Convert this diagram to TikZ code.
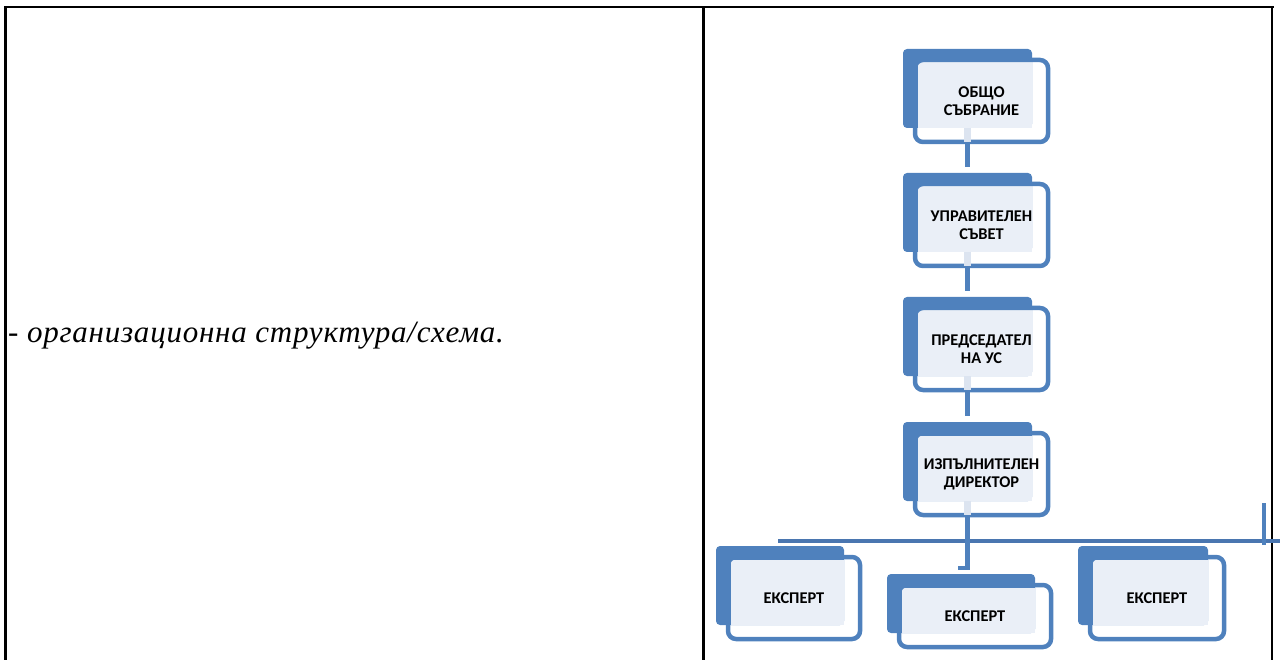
\documentclass[tikz,border=0pt]{standalone}
\usepackage{fontspec}
\setmainfont{Liberation Serif}
\newfontfamily\boxfont{Carlito}
\usetikzlibrary{calc}
\definecolor{ofdark}{HTML}{4F81BD}
\definecolor{oflight}{HTML}{EAEFF7}
\definecolor{ofstub}{HTML}{DCE4F0}
\definecolor{ofbus}{HTML}{4A76B0}
\tikzset{
  darkbox/.style={fill=ofdark, rounded corners=4pt, inner sep=0pt, outer sep=0pt},
  outbox/.style={draw=ofdark, line width=4.5pt, rounded corners=8pt, inner sep=0pt, outer sep=0pt},
  lightfill/.style={fill=oflight},
  boxtext/.style={font=\boxfont\bfseries\fontsize{16.4}{18}\selectfont, align=center, text=black, inner sep=0pt},
  conn/.style={draw=ofdark, line width=4.5pt},
  lightstub/.style={draw=ofstub, line width=7pt},
  busline/.style={draw=ofbus, line width=4pt},
  frame/.style={draw=black, line width=2.6pt},
}
% name, x, y, w, h, text
\newcommand\orgbox[6]{%
  \node[darkbox, minimum width=#4, minimum height=#5, anchor=north west] (#1d) at (#2,#3) {};
  \fill[lightfill] (#2+14.5,#3+13.5) rectangle (#2+#4,#3+#5);
  \node[outbox, minimum width=#4+4, minimum height=#5+3, anchor=north west] (#1) at (#2+12,#3+11) {};
  \node[boxtext] (#1t) at (#1.center) {#6};
}
\begin{document}
\begin{tikzpicture}[x=1pt,y=-1pt]
\useasboundingbox (0,0) rectangle (1280,660);
% table frame
\draw[frame] (4,7) -- (1274,7);
\draw[frame] (5.3,7) -- (5.3,660);
\draw[frame] (703.5,7) -- (703.5,660);
\draw[frame] (1272,7) -- (1272,660);
% left cell text
\node[anchor=base west, inner sep=0pt, font=\itshape\fontsize{31}{35}\selectfont\addfontfeature{LetterSpace=2.5}] (lefttext) at (8,343) {- организационна структура/схема.};
% chain of boxes
\orgbox{b1}{903}{49}{129}{79}{ОБЩО\\СЪБРАНИЕ}
\orgbox{b2}{903}{173}{129}{79}{УПРАВИТЕЛЕН\\СЪВЕТ}
\orgbox{b3}{903}{297}{129}{79}{ПРЕДСЕДАТЕЛ\\НА УС}
\orgbox{b4}{903}{422}{129}{79}{ИЗПЪЛНИТЕЛЕН\\ДИРЕКТОР}
% bottom row
\orgbox{e1}{716}{546}{128}{79}{ЕКСПЕРТ}
\orgbox{e2}{887}{574}{148}{59}{ЕКСПЕРТ}
\orgbox{e3}{1078}{546}{130}{79}{ЕКСПЕРТ}
% connectors
\foreach \a/\b in {b1/b2,b2/b3,b3/b4}{
  \draw[lightstub] (\a d.south) -- (\a d.south |- \a.south);
  \draw[conn, shorten >=6pt] (\a d.south |- \a.south) -- (\b d.north);
}
\draw[lightstub] (b4d.south) -- (b4d.south |- b4.south);
\coordinate (busL) at (778,541);
\coordinate (busR) at (1280,541);
\coordinate (stubT) at (1264,503);
\coordinate (tickEnd) at (958,568);
\draw[busline] (busL) -- (busR);
\draw[conn] (stubT) -- (stubT |- 0,545);
\draw[conn] (b4d.south |- b4.south) -- (b4d.south |- tickEnd) -- (tickEnd);
\end{tikzpicture}
\end{document}
